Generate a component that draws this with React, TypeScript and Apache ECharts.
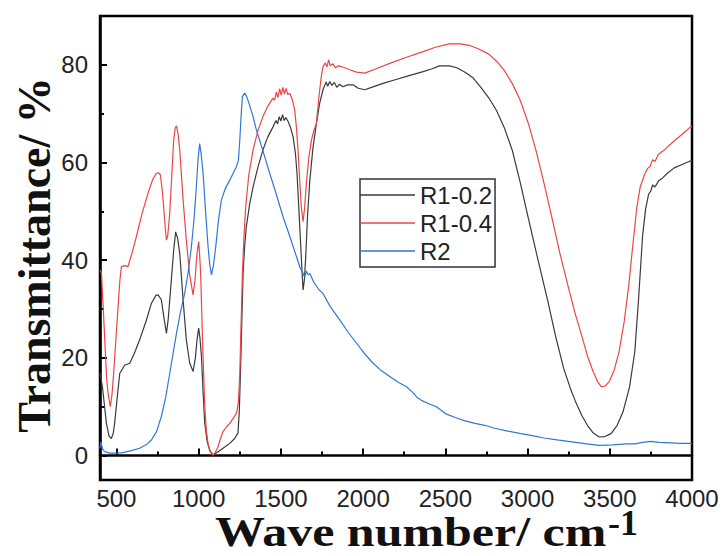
import React, { useEffect, useRef } from "react";
import * as echarts from "echarts";

const SERIES_NAMES = ["R1-0.2", "R1-0.4", "R2"];
const X_MAJOR = [500, 1000, 1500, 2000, 2500, 3000, 3500, 4000];
const X_MINOR = [750, 1250, 1750, 2250, 2750, 3250, 3750];
const Y_MAJOR = [0, 20, 40, 60, 80];
const Y_MINOR = [10, 30, 50, 70];

const R1_02: [number, number][] = [
  [400,17],[415,14],[439,6.6],[455,4],[469,3.5],[480,4.5],[489,6.6],[505,12],[520,16.8],[550,18.5],[581,18.9],[610,21],[641,23.7],[680,27.5],[713,31.2],[740,32.8],[753,32.9],[773,31.9],[790,28],[804,25],[815,28],[834,36],[848,42],[860,45.8],[872,44.5],[885,41.4],[905,32],[925,23.7],[945,19],[966,17.2],[980,20],[990,23.7],[1000,26.1],[1008,24],[1017,20.3],[1027,13],[1037,6.6],[1052,2.8],[1067,1.1],[1087,0.1],[1118,0.8],[1148,1.5],[1189,2.5],[1219,3.5],[1239,4.6],[1247,9],[1254,16.8],[1262,27],[1270,37.3],[1280,43],[1290,46.9],[1310,51.5],[1331,55],[1360,59],[1391,62.6],[1420,65.2],[1452,67.3],[1470,68.6],[1480,67.9],[1490,69.4],[1500,68.5],[1510,69.8],[1520,68.6],[1530,69.2],[1544,68.4],[1560,67],[1574,65.3],[1588,62],[1598,57.8],[1610,50],[1619,44.1],[1628,38],[1635,33.9],[1643,36],[1651,40.7],[1662,49],[1676,56.4],[1695,63],[1716,68],[1735,72],[1756,74.9],[1775,76.5],[1785,75.6],[1797,76.6],[1810,75.8],[1825,76.4],[1840,75.4],[1855,76],[1878,75.5],[1905,75.9],[1939,75.9],[1970,75.2],[2010,74.9],[2060,75.5],[2121,76.2],[2200,77],[2280,77.8],[2365,78.6],[2420,79.2],[2464,79.8],[2524,79.8],[2570,79.4],[2620,78.5],[2670,77.3],[2716,75.4],[2765,73.2],[2812,70.6],[2860,67],[2908,62.4],[2955,56],[3004,48.7],[3064,40],[3124,31.5],[3170,24.5],[3220,17.8],[3260,13.8],[3292,11],[3330,8.2],[3364,6.2],[3400,4.6],[3436,3.8],[3470,3.9],[3508,4.5],[3545,6.2],[3580,8.9],[3620,14],[3652,21.2],[3675,32],[3700,45.2],[3718,50.5],[3736,53.5],[3750,54.2],[3760,55.4],[3775,55],[3796,56.2],[3820,56.8],[3850,57.8],[3892,58.9],[3940,59.6],[3988,60.3],[4000,60.4]
];

const R1_04: [number, number][] = [
  [400,38],[409,37.3],[420,30],[429,23.7],[440,16],[449,12.8],[463,10],[473,12.5],[483,16.8],[495,23],[510,30.5],[520,35.5],[530,38.7],[550,38.9],[570,38.7],[595,41.5],[621,44.8],[655,49.5],[692,53.7],[720,56.5],[743,57.8],[755,57.9],[767,57.5],[778,54.5],[787,51],[796,47],[804,44.1],[812,45],[824,49.6],[836,57],[848,64.6],[857,67],[865,67.5],[875,65.8],[885,62.6],[905,52.5],[925,44.1],[945,37],[966,32.9],[978,36],[990,41.4],[1000,43.8],[1006,41],[1012,37.3],[1025,22],[1037,10],[1047,5],[1057,2.5],[1070,0.8],[1087,0.1],[1100,0.6],[1118,1.8],[1133,3.5],[1148,4.9],[1170,5.9],[1189,6.6],[1210,7.6],[1230,8.7],[1242,11],[1250,16.8],[1258,27],[1266,37.3],[1276,45],[1286,51],[1305,57.5],[1331,62.6],[1360,66.5],[1391,69.4],[1420,71.5],[1452,73.2],[1462,72.8],[1472,74.4],[1482,73.3],[1492,75.1],[1502,73.8],[1512,75.4],[1522,74],[1532,75.2],[1542,73.9],[1554,74.2],[1570,72.8],[1584,70.8],[1595,67],[1604,62.6],[1615,56],[1625,50.5],[1635,47.9],[1645,51],[1655,55.8],[1670,61],[1686,64.6],[1700,66.5],[1716,68],[1730,73],[1745,77.5],[1756,79.6],[1770,80.4],[1780,79.6],[1790,81],[1800,79.8],[1817,80.2],[1830,79.4],[1850,79.8],[1880,79.5],[1919,79],[1960,78.5],[2010,78.3],[2080,79.2],[2162,80.3],[2260,81.5],[2365,82.7],[2440,83.6],[2524,84.3],[2590,84.3],[2644,84],[2700,83.3],[2764,82.2],[2810,80.8],[2860,78.8],[2910,76],[2956,72.7],[3005,68],[3052,62.4],[3100,55.8],[3148,48.7],[3196,41.5],[3244,35],[3290,29],[3328,24.7],[3365,20.3],[3400,17.1],[3425,15.2],[3448,14.1],[3470,14.2],[3496,15.1],[3525,17.3],[3556,21.2],[3588,27.5],[3616,35],[3640,43],[3664,50.7],[3685,55],[3712,57.6],[3730,58.8],[3745,59.2],[3760,60.6],[3775,60.2],[3796,61.7],[3830,62.5],[3860,63.5],[3892,64.4],[3940,65.8],[3988,67.2],[4000,67.4]
];

const R2: [number, number][] = [
  [400,1.5],[405,2.8],[409,2.2],[418,1.2],[429,0.8],[459,0.5],[500,0.5],[540,0.6],[590,1],[641,1.5],[680,2.2],[713,3.2],[745,5],[773,8],[800,12],[824,16.8],[845,21],[865,25],[890,29.5],[915,33.2],[936,37.5],[956,42.8],[972,48.5],[986,55],[996,60.5],[1006,63.9],[1016,61.5],[1027,57.8],[1042,50],[1057,42.8],[1068,39],[1078,37],[1090,39],[1104,42.8],[1120,48],[1138,52.3],[1160,54.5],[1189,56.4],[1210,57.8],[1230,59.2],[1242,60.5],[1250,64.6],[1258,69.5],[1266,73.5],[1280,74.2],[1292,73.5],[1306,72.1],[1330,69.5],[1351,66.7],[1390,62.5],[1432,57.8],[1472,53.5],[1513,48.9],[1555,44.8],[1595,40.7],[1615,38.6],[1635,37.3],[1645,36.5],[1655,37.8],[1665,37],[1676,37.3],[1700,35.5],[1730,34],[1756,33.2],[1800,30.5],[1858,27.8],[1910,25.2],[1960,23],[2010,20.8],[2061,18.9],[2110,17.4],[2162,16.2],[2214,15],[2264,14.1],[2300,13],[2334,11.7],[2345,11.6],[2354,11.3],[2400,10.6],[2446,10],[2500,8.6],[2560,7.8],[2620,7.1],[2680,6.6],[2740,6.2],[2800,5.6],[2880,5],[2960,4.5],[3028,4.1],[3100,3.6],[3180,3.2],[3292,2.7],[3360,2.4],[3436,2.1],[3520,2.2],[3600,2.4],[3652,2.4],[3700,2.7],[3748,2.9],[3800,2.7],[3868,2.6],[3930,2.5],[3988,2.5],[4000,2.5]
];

const COLORS = ["#3a3a3a", "#ec4545", "#3276d8"];
const SANS = "'Liberation Sans', Arial, sans-serif";
const SERIF = "'Liberation Serif', 'Times New Roman', serif";

export default function App() {
  const ref = useRef<HTMLDivElement>(null);
  useEffect(() => {
    if (!ref.current) return;
    const chart = echarts.init(ref.current, undefined, { renderer: "svg" });
    const axisCommon = { type: "value" as const, min: 400, max: 4000, position: "bottom" as const };
    const yCommon = { type: "value" as const, min: -5, max: 90, position: "left" as const };
    const plain = (v: number) => String(v);
    chart.setOption({
      animation: false,
      backgroundColor: "#fff",
      color: COLORS,
      grid: {
        left: 100, right: 34, top: 16, bottom: 76,
        show: true, borderColor: "#000", borderWidth: 2.5,
      },
      xAxis: [
        {
          ...axisCommon,
          axisLine: { show: true, lineStyle: { color: "#000", width: 2.5 } },
          axisTick: { show: true, inside: true, length: 7, customValues: X_MAJOR, lineStyle: { color: "#000", width: 2 } },
          axisLabel: { customValues: X_MAJOR, formatter: plain, fontSize: 24, lineHeight: 20, color: "#222", margin: 8, fontFamily: SANS },
          splitLine: { show: false },
        },
        {
          ...axisCommon,
          axisLine: { show: false },
          axisTick: { show: true, inside: true, length: 4, customValues: X_MINOR, lineStyle: { color: "#000", width: 2 } },
          axisLabel: { show: false },
          splitLine: { show: false },
        },
      ],
      yAxis: [
        {
          ...yCommon,
          axisLine: { show: true, lineStyle: { color: "#000", width: 2.5 } },
          axisTick: { show: true, inside: true, length: 7, customValues: Y_MAJOR, lineStyle: { color: "#000", width: 2 } },
          axisLabel: { customValues: Y_MAJOR, formatter: plain, fontSize: 24, color: "#222", margin: 12, fontFamily: SANS },
          splitLine: { show: false },
        },
        {
          ...yCommon,
          axisLine: { show: false },
          axisTick: { show: true, inside: true, length: 4, customValues: Y_MINOR, lineStyle: { color: "#000", width: 2 } },
          axisLabel: { show: false },
          splitLine: { show: false },
        },
      ],
      legend: {
        orient: "vertical",
        left: 360, top: 179,
        data: SERIES_NAMES.map((n) => ({ name: n, icon: "rect" })),
        itemWidth: 55, itemHeight: 1.5, itemGap: 0,
        padding: [2, 3, 2, 0],
        borderColor: "#333", borderWidth: 1.5,
        backgroundColor: "#fff",
        textStyle: { fontSize: 24, lineHeight: 28, color: "#222", fontFamily: SANS },
      },
      series: [R1_02, R1_04, R2].map((d, i) => ({
        name: SERIES_NAMES[i],
        type: "line",
        data: d,
        xAxisIndex: 0,
        yAxisIndex: 0,
        symbol: "none",
        showSymbol: false,
        lineStyle: { width: 1.2, color: COLORS[i] },
        itemStyle: { color: COLORS[i] },
        z: i === 2 ? 3 : 2,
      })),
      graphic: [
        {
          type: "text", x: 34, y: 255, rotation: Math.PI / 2,
          style: { text: "Transmittance/ %", font: `bold 46px ${SERIF}`, fill: "#111", align: "center", verticalAlign: "middle" },
        },
        {
          type: "text", x: 215, y: 532, scaleX: 1.19,
          style: { text: "Wave number/ cm", font: `bold 42px ${SERIF}`, fill: "#111", align: "left", verticalAlign: "middle" },
        },
        {
          type: "text", x: 608, y: 523,
          style: { text: "-1", font: `bold 36px ${SERIF}`, fill: "#111", align: "left", verticalAlign: "middle" },
        },
      ],
    });
    return () => chart.dispose();
  }, []);
  return <div ref={ref} style={{ width: 726, height: 556, position: "absolute", left: 0, top: 0 }} />;
}
